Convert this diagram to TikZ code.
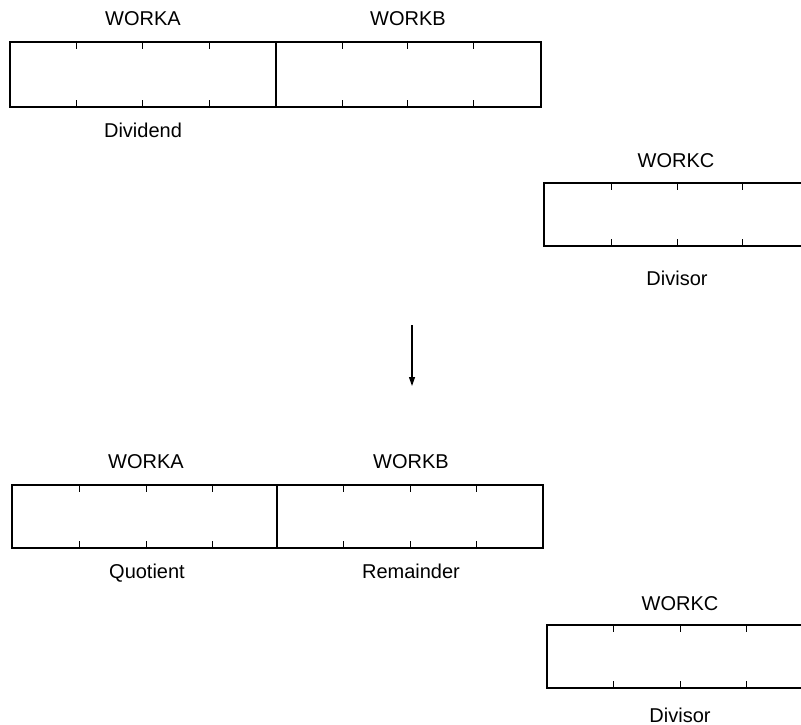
\documentclass[tikz,border=0pt]{standalone}
\usepackage{fontspec}
\setmainfont{Liberation Sans}
\usetikzlibrary{arrows.meta}
\begin{document}
\begin{tikzpicture}[x=1pt,y=-1pt,
  frame/.style={line width=2.2pt,line join=miter},
  divider/.style={line width=1.3pt},
  regtick/.style={line width=1pt},
  lbl/.style={anchor=base,inner sep=0pt,font=\fontsize{20}{24}\selectfont},
  flow/.style={line width=1.2pt,-{Triangle[length=9pt,width=6pt]}}]
\useasboundingbox (0,0) rectangle (801,725);
\clip (0,0) rectangle (801,725);

% ---- before: dividend in WORKA/WORKB ----
\draw[frame] (10,42) rectangle (541,107);
\draw[divider] (276,42) -- (276,107);
\foreach \x in {76,142,209,342,407,473}
  {\draw[regtick] (\x,42) -- ++(0,7); \draw[regtick] (\x,107) -- ++(0,-7);}
\node[lbl] (workaTop) at (143,26) {WORKA};
\node[lbl] (workbTop) at (408,26) {WORKB};
\node[lbl] (dividend) at (143,137) {Dividend};

% divisor in WORKC (runs past the right edge)
\draw[frame] (830,183) -- (544,183) -- (544,246) -- (830,246);
\foreach \x in {611,677,742}
  {\draw[regtick] (\x,183) -- ++(0,7); \draw[regtick] (\x,246) -- ++(0,-7);}
\node[lbl] (workcTop) at (676,167) {WORKC};
\node[lbl] (divisorTop) at (677,285) {Divisor};

% ---- step arrow ----
\coordinate (stepFrom) at (412,325);
\coordinate (stepTo) at (412,386);
\draw[flow] (stepFrom) -- (stepTo);

% ---- after: quotient and remainder ----
\draw[frame] (12,485) rectangle (543,548);
\draw[divider] (277,485) -- (277,548);
\foreach \x in {79,146,212,343,410,476}
  {\draw[regtick] (\x,485) -- ++(0,7); \draw[regtick] (\x,548) -- ++(0,-7);}
\node[lbl] (workaBot) at (146,468) {WORKA};
\node[lbl] (workbBot) at (411,468) {WORKB};
\node[lbl] (quotient) at (147,578) {Quotient};
\node[lbl] (remainder) at (411,578) {Remainder};

% divisor unchanged in WORKC
\draw[frame] (830,625) -- (547,625) -- (547,688) -- (830,688);
\foreach \x in {613,680,746}
  {\draw[regtick] (\x,625) -- ++(0,7); \draw[regtick] (\x,688) -- ++(0,-7);}
\node[lbl] (workcBot) at (680,610) {WORKC};
\node[lbl] (divisorBot) at (680,722) {Divisor};
\end{tikzpicture}
\end{document}
